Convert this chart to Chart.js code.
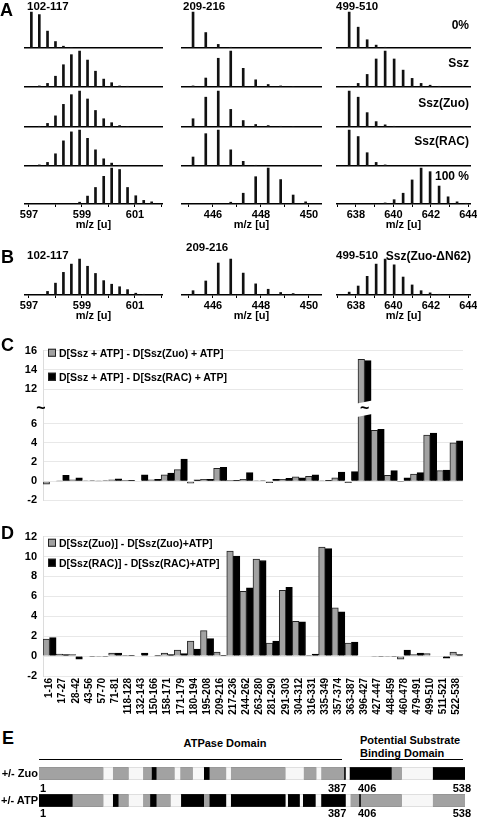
<!DOCTYPE html>
<html>
<head>
<meta charset="utf-8">
<script src="https://cdn.jsdelivr.net/npm/chart.js@4.4.1/dist/chart.umd.min.js"></script>
<style>
body { margin: 0; width: 477px; height: 817px; position: relative; overflow: hidden; background: #fff;
  font-family: "Liberation Sans", Arial, sans-serif; font-weight: bold; color: #000; }
canvas { position: absolute; }
.t { position: absolute; white-space: nowrap; line-height: 1; transform: translateY(-50%); }
.ln { position: absolute; height: 0; border-top: 1px solid #000; }
.box { display: inline-block; width: 6px; height: 6px; border: 1px solid #222; margin-right: 3px; vertical-align: 0; }
</style>
</head>
<body>
<script>
// ---- A / B : isotope envelopes (peak m/z, heights relative to tallest peak) ----
const peptides = ['102-117', '209-216', '499-510'];
const rowNames = ['0%', 'Ssz', 'Ssz(Zuo)', 'Ssz(RAC)', '100 %'];

const mz102 = [597.09, 597.39, 597.70, 598.00, 598.30, 598.60, 598.91, 599.21, 599.51, 599.82, 600.12, 600.42, 600.72, 601.03, 601.33, 601.63];
const int102 = [
  [1.0, 0.93, 0.47, 0.18, 0.05, 0.01, 0, 0, 0, 0, 0, 0, 0, 0, 0, 0],
  [0, 0.03, 0.1, 0.3, 0.62, 0.9, 1.0, 0.75, 0.44, 0.22, 0.12, 0.03, 0.02, 0, 0, 0],
  [0, 0.02, 0.1, 0.31, 0.63, 0.9, 1.0, 0.78, 0.46, 0.23, 0.12, 0.04, 0.01, 0, 0, 0],
  [0, 0.03, 0.1, 0.34, 0.7, 0.95, 1.0, 0.77, 0.45, 0.2, 0.08, 0.02, 0, 0, 0, 0],
  [0, 0, 0, 0, 0, 0, 0.05, 0.22, 0.46, 0.77, 1.0, 0.96, 0.46, 0.23, 0.1, 0.06]
];
const int102B = [0, 0, 0.1, 0.33, 0.63, 0.86, 1.0, 0.8, 0.6, 0.4, 0.3, 0.23, 0.15, 0.05, 0.02, 0];

const mz209 = [445.17, 445.70, 446.22, 446.74, 447.26, 447.78, 448.30, 448.82, 449.34, 449.86];
const int209 = [
  [1.0, 0.43, 0.1, 0.02, 0, 0, 0, 0, 0, 0],
  [0.03, 0.25, 0.8, 1.0, 0.52, 0.2, 0.07, 0.03, 0.01, 0],
  [0.23, 0.83, 1.0, 0.49, 0.18, 0.07, 0.04, 0.02, 0.01, 0],
  [0.25, 0.9, 1.0, 0.45, 0.13, 0.02, 0, 0, 0, 0],
  [0, 0, 0, 0.05, 0.3, 0.76, 1.0, 0.68, 0.25, 0.06]
];
const int209B = [0.12, 0.39, 0.89, 1.0, 0.61, 0.31, 0.16, 0.07, 0.04, 0];

const mz499 = [637.64, 638.12, 638.60, 639.08, 639.56, 640.04, 640.52, 641.00, 641.48, 641.96, 642.44, 642.92, 643.40, 643.88];
const int499 = [
  [1.0, 0.58, 0.23, 0.08, 0.02, 0, 0, 0, 0, 0, 0, 0, 0, 0],
  [0.02, 0.1, 0.35, 0.78, 1.0, 0.78, 0.47, 0.24, 0.1, 0.05, 0.02, 0, 0, 0],
  [1.0, 0.83, 0.4, 0.15, 0.06, 0.02, 0, 0, 0, 0, 0, 0, 0, 0],
  [1.0, 0.82, 0.37, 0.1, 0.03, 0, 0, 0, 0, 0, 0, 0, 0, 0],
  [0, 0, 0, 0, 0.03, 0.12, 0.3, 0.67, 1.0, 0.9, 0.5, 0.2, 0.06, 0.02]
];
const int499B = [0.08, 0.25, 0.52, 0.86, 1.0, 0.84, 0.5, 0.28, 0.12, 0.06, 0.02, 0, 0, 0];

const mzTicks = [[597, 599, 601], [446, 448, 450], [638, 640, 642, 644]];

// ---- C / D : deuteration differences per peptide ----
const cats = ['1-16', '17-27', '28-42', '43-56', '57-70', '71-81', '118-128', '132-143', '150-166', '158-171',
  '171-179', '180-194', '195-208', '209-216', '217-236', '244-262', '263-280', '281-290', '291-303', '304-312',
  '316-331', '335-349', '357-374', '363-387', '396-427', '427-447', '448-459', '460-478', '479-491', '499-510',
  '511-521', '522-538'];
const namesC = ['D[Ssz + ATP] - D[Ssz(Zuo) + ATP]', 'D[Ssz + ATP] - D[Ssz(RAC) + ATP]'];
const zuoC = [-0.3, 0.03, 0.15, 0.05, 0.03, 0.15, 0.1, null, 0.15, 0.65, 1.2, -0.2, 0.2, 1.35, 0.1, 0.2,
  0.05, -0.15, 0.2, 0.45, 0.5, 0.05, 0.35, -0.15, 15.1, 5.3, 0.6, -0.05, 0.75, 4.8, 1.1, 4.0];
const racC = [null, 0.6, 0.35, 0.05, 0.05, 0.25, 0.1, 0.65, 0.2, 0.85, 2.3, 0.15, 0.2, 1.45, 0.1, 0.9,
  0.05, 0.2, 0.3, 0.35, 0.65, 0.1, 0.95, 1.0, 14.95, 5.4, 1.1, 0.35, 0.9, 5.0, 1.15, 4.2];
const cTicks = [-2, 0, 2, 4, 6, 12, 14, 16];

const namesD = ['D[Ssz(Zuo)] - D[Ssz(Zuo)+ATP]', 'D[Ssz(RAC)] - D[Ssz(RAC)+ATP]'];
const zuoD = [1.7, 0.2, 0.15, null, -0.05, 0.3, 0.05, null, null, 0.3, 0.6, 1.5, 2.55, 0.4, 10.55, 6.5,
  9.75, 1.3, 6.6, 3.5, 0.05, 10.95, 4.85, 1.3, null, -0.05, -0.05, -0.3, 0.15, 0.25, null, 0.4];
const racD = [1.85, 0.15, -0.3, -0.05, -0.05, 0.3, 0.05, 0.3, 0.02, 0.15, 0.25, 0.7, 1.75, 0.03, 10.05, 6.85,
  9.6, 1.5, 6.9, 3.45, 0.2, 10.8, 4.45, 1.4, null, -0.05, -0.05, 0.6, 0.3, null, -0.2, 0.15];

// ---- E : protection map along the sequence (residue boundaries, shade g/w/k) ----
const rowsE = ['+/- Zuo', '+/- ATP'];
const zuoEdges = [0, 81, 93, 113, 131, 142, 148, 171, 178, 194, 208, 215, 236, 242, 311, 334, 350, 356, 385, 387, 392, 445, 458, 497, 538];
const zuoShade = ['g', 'w', 'g', 'w', 'g', 'k', 'g', 'w', 'g', 'w', 'k', 'g', 'w', 'g', 'w', 'g', 'w', 'g', 'k', 'w', 'k', 'g', 'w', 'k'];
const atpEdges = [0, 42, 81, 93, 100, 113, 131, 140, 148, 166, 179, 208, 215, 236, 242, 311, 314, 329, 333, 349, 356, 387, 393, 404, 406, 458, 497, 538];
const atpShade = ['k', 'g', 'w', 'k', 'g', 'w', 'g', 'k', 'g', 'w', 'k', 'g', 'k', 'w', 'k', 'w', 'k', 'w', 'k', 'w', 'k', 'w', 'g', 'k', 'g', 'w', 'g'];

const GRAY = '#a2a2a2';
const shadeColor = {g: GRAY, w: '#f7f7f7', k: '#000'};

Chart.defaults.font.family = '"Liberation Sans", Arial, sans-serif';
Chart.defaults.font.weight = 'bold';
Chart.defaults.font.size = 11;
Chart.defaults.color = '#000';
Chart.defaults.animation = false;
Chart.defaults.responsive = false;
Chart.defaults.events = [];
Chart.defaults.plugins.legend.display = false;
Chart.defaults.plugins.tooltip.enabled = false;

function mk(x, y, w, h) {
  const c = document.createElement('canvas');
  c.width = w; c.height = h;
  c.style.left = x + 'px'; c.style.top = y + 'px';
  document.body.appendChild(c);
  return c;
}
function txt(s, x, y, size, align) {
  const d = document.createElement('div');
  d.className = 't';
  d.textContent = s;
  d.style.fontSize = size + 'px';
  d.style.top = y + 'px';
  if (align === 'r') d.style.right = (477 - x) + 'px';
  else if (align === 'c') { d.style.left = x + 'px'; d.style.transform = 'translate(-50%,-50%)'; }
  else d.style.left = x + 'px';
  document.body.appendChild(d);
  return d;
}
function line(x0, x1, y) {
  const d = document.createElement('div');
  d.className = 'ln';
  d.style.left = x0 + 'px'; d.style.width = (x1 - x0) + 'px'; d.style.top = y + 'px';
  document.body.appendChild(d);
}

// spectrum columns: plot extent in px and m/z range
const cols = [
  {left: 25, right: 162, min: 596.85, max: 602.02},
  {left: 182, right: 321, min: 444.71, max: 450.5},
  {left: 337, right: 470, min: 636.99, max: 644.09}
];
const PAD = 14;

function spectrum(col, mz, heights, baseline, withAxis) {
  const c = cols[col];
  const h = withAxis ? 37 + 28 : 39;
  const cv = mk(c.left - PAD, baseline - 37, c.right - c.left + 2 * PAD, h);
  new Chart(cv, {
    type: 'bar',
    data: {
      datasets: [{
        data: mz.map((x, i) => ({x: x, y: heights[i]})).filter(p => p.y > 0),
        backgroundColor: '#111',
        barThickness: 2
      }]
    },
    options: {
      layout: {padding: {top: 0, left: PAD, right: PAD, bottom: withAxis ? 0 : 2}},
      scales: {
        x: {
          type: 'linear', min: c.min, max: c.max, offset: false,
          border: {color: '#000', width: 1.5},
          grid: {display: withAxis, offset: false, drawOnChartArea: false, drawTicks: withAxis, tickLength: 3, color: '#000'},
          ticks: {display: withAxis, stepSize: 1, includeBounds: false, padding: 1, autoSkip: false, maxRotation: 0,
            callback: v => mzTicks[col].includes(v) ? String(v) : ''},
          title: {display: withAxis, text: 'm/z [u]', padding: 0, font: {size: 11}},
          afterFit: s => { if (withAxis) s.height = 28; }
        },
        y: {display: false, min: 0, max: 1.03}
      }
    }
  });
}

const baselinesA = [48, 87, 126.5, 165.5, 204];
const allInt = [int102, int209, int499];
const allMz = [mz102, mz209, mz499];
for (let col = 0; col < 3; col++) {
  for (let r = 0; r < 5; r++) spectrum(col, allMz[col], allInt[col][r], baselinesA[r], r === 4);
}
const intB = [int102B, int209B, int499B];
for (let col = 0; col < 3; col++) spectrum(col, allMz[col], intB[col], 295, true);

// panel A / B text
txt('A', 0, 10, 18);
txt(peptides[0], 27, 7, 11.5); txt(peptides[1], 183, 7, 11.5); txt(peptides[2], 336, 7, 11.5);
const rowLabelY = [25, 63, 103, 141, 176];
rowNames.forEach((n, i) => txt(n, 469, rowLabelY[i], 12, 'r'));
txt('B', 1, 257, 18);
txt(peptides[0], 27, 256, 11.5); txt(peptides[1], 186, 248, 11.5); txt(peptides[2], 336, 256, 11.5);
txt('Ssz(Zuo-\u0394N62)', 471, 256, 12, 'r');

// ---- C ----
const cut = 2.4; // axis units removed by the break between 6 and 12
const brk = v => v == null ? null : (v > 9 ? v - cut : v);

const breakMarks = {
  id: 'breakMarks',
  afterDatasetsDraw(chart) {
    const ctx = chart.ctx, y = chart.scales.y;
    const i = zuoC.findIndex(v => v > 9);
    const a = chart.getDatasetMeta(0).data[i], b = chart.getDatasetMeta(1).data[i];
    const x0 = a.x - a.width / 2 - 1, x1 = b.x + b.width / 2 + 1;
    const yTop = y.getPixelForValue(8.3), yBot = y.getPixelForValue(6.8);
    ctx.save();
    ctx.fillStyle = '#fff';
    ctx.beginPath();
    ctx.moveTo(x0, yTop + 2); ctx.lineTo(x1, yTop - 1);
    ctx.lineTo(x1, yBot - 2); ctx.lineTo(x0, yBot + 1);
    ctx.closePath(); ctx.fill();
    ctx.fillStyle = '#000';
    ctx.font = 'bold 16px "Liberation Sans", Arial';
    ctx.textAlign = 'center'; ctx.textBaseline = 'middle';
    ctx.fillText('~', (x0 + x1) / 2, (yTop + yBot) / 2);
    ctx.fillText('~', chart.chartArea.left - 2, y.getPixelForValue(7.6));
    ctx.restore();
  }
};

function barSets(names, a, b, map) {
  return [
    {label: names[0], data: a.map(map), backgroundColor: GRAY, borderColor: '#222', borderWidth: 1},
    {label: names[1], data: b.map(map), backgroundColor: '#000', borderColor: '#000', borderWidth: 1}
  ];
}
const yBase = {
  afterFit: s => { s.width = 43; },
  ticks: {padding: 6, font: {size: 11}},
  grid: {color: '#e8e8e8', drawTicks: false},
  border: {color: '#dcdcdc'}
};

new Chart(mk(0, 338, 477, 175), {
  type: 'bar',
  data: {labels: cats, datasets: barSets(namesC, zuoC, racC, brk)},
  options: {
    layout: {padding: {top: 7, right: 14, bottom: 6, left: 0}},
    datasets: {bar: {categoryPercentage: 1, barPercentage: 1}},
    scales: {
      x: {display: false},
      y: Object.assign({}, yBase, {
        min: -2, max: brk(16),
        afterBuildTicks: s => { s.ticks = cTicks.map(v => ({value: brk(v)})); },
        ticks: {padding: 6, font: {size: 11}, callback: (v, i) => String(cTicks[i])}
      })
    }
  },
  plugins: [breakMarks]
});

// ---- D ----
new Chart(mk(0, 524, 477, 196), {
  type: 'bar',
  data: {labels: cats, datasets: barSets(namesD, zuoD, racD, v => v)},
  options: {
    layout: {padding: {top: 7, right: 14, bottom: 0, left: 0}},
    datasets: {bar: {categoryPercentage: 1, barPercentage: 1}},
    scales: {
      x: {
        grid: {display: false, drawTicks: false}, border: {display: false},
        ticks: {autoSkip: false, minRotation: 90, maxRotation: 90, padding: 2, font: {size: 10}},
        afterFit: s => { s.height = 44; }
      },
      y: Object.assign({}, yBase, {min: -2, max: 12, ticks: {padding: 6, stepSize: 2, font: {size: 11}}})
    }
  }
});

function legend(names, x, ys) {
  names.forEach((n, i) => {
    const d = txt('', x, ys[i], 10.5);
    const b = document.createElement('span');
    b.className = 'box';
    b.style.background = i === 0 ? GRAY : '#000';
    d.appendChild(b);
    d.appendChild(document.createTextNode(n));
  });
}
txt('C', 1, 345, 18);
legend(namesC, 48, [353, 377]);
txt('D', 1, 533, 18);
legend(namesD, 48, [543, 563]);

// ---- E ----
function segSets(edges, shade, row) {
  return shade.map((s, k) => ({
    data: row === 0 ? [[edges[k], edges[k + 1]], null] : [null, [edges[k], edges[k + 1]]],
    backgroundColor: shadeColor[s], borderWidth: 0, grouped: false, barThickness: 12
  }));
}
const eSets = segSets(zuoEdges, zuoShade, 0).concat(segSets(atpEdges, atpShade, 1));
eSets.push({data: [[0, 538], [0, 538]], backgroundColor: 'rgba(0,0,0,0)', borderColor: '#000',
  borderWidth: 1, borderSkipped: false, grouped: false, barThickness: 12});

new Chart(mk(37, 760, 430, 54), {
  type: 'bar',
  data: {labels: rowsE, datasets: eSets},
  options: {
    indexAxis: 'y',
    layout: {padding: {left: 2, right: 2, top: 0, bottom: 0}},
    scales: {x: {display: false, min: 0, max: 538}, y: {display: false}}
  }
});

txt('E', 2, 738, 18);
txt('ATPase Domain', 225, 743, 11, 'c');
txt('Potential Substrate', 360, 740, 11);
txt('Binding Domain', 360, 753, 11);
line(39, 342, 759);
line(360, 463, 759);
txt(rowsE[0], 38, 773, 11, 'r');
txt(rowsE[1], 38, 800, 11, 'r');
[[788], [813]].forEach(([y]) => {
  txt('1', 40, y, 11);
  txt('387', 328, y, 11);
  txt('406', 358, y, 11);
  txt('538', 471, y, 11, 'r');
});
</script>
</body>
</html>
